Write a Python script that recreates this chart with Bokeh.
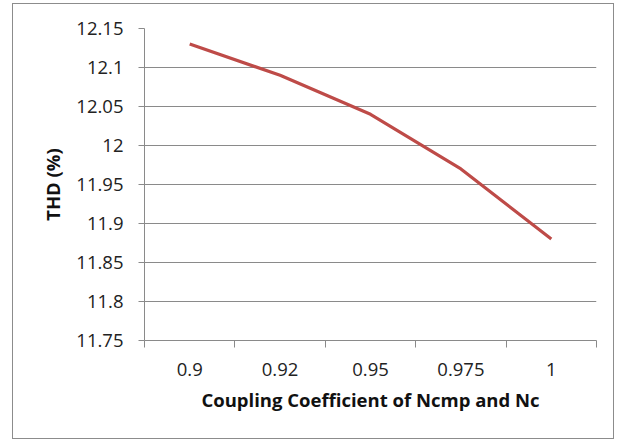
from bokeh.plotting import figure
from bokeh.models import Range1d, FixedTicker, ColumnDataSource
from bokeh.embed import file_html
from bokeh.resources import INLINE

# Data
categories = ["0.9", "0.92", "0.95", "0.975", "1"]
thd = [12.13, 12.09, 12.04, 11.97, 11.88]
y_ticks = [11.75, 11.8, 11.85, 11.9, 11.95, 12.0, 12.05, 12.1, 12.15]
y_tick_labels = ["11.75", "11.8", "11.85", "11.9", "11.95", "12", "12.05", "12.1", "12.15"]

n = len(categories)
xpos = [i + 0.5 for i in range(n)]
src = ColumnDataSource(dict(x=xpos, y=thd))

FONT = "Open Sans"
GRAY = "#8a8a8a"

p = figure(width=602, height=436, output_backend="svg", toolbar_location=None,
           x_range=Range1d(0, n), y_range=Range1d(y_ticks[0], y_ticks[-1]),
           min_border_left=131, min_border_right=19, min_border_top=24, min_border_bottom=100,
           styles={"border": "1.5px solid #8c8c8c", "margin-left": "12px", "margin-top": "3px"})
p.background_fill_color = "white"
p.border_fill_color = "white"
p.outline_line_color = None

p.line("x", "y", source=src, line_color="#BE4B48", line_width=3.2)

# X axis: boundary tick marks (minor), category labels at centers
xa = p.xaxis[0]
xa.ticker = FixedTicker(ticks=xpos, minor_ticks=list(range(n + 1)))
xa.major_label_overrides = {xv: c for xv, c in zip(xpos, categories)}
xa.major_tick_out = 0
xa.major_tick_in = 0
xa.minor_tick_out = 7
xa.minor_tick_in = 0
xa.minor_tick_line_color = GRAY
xa.axis_line_color = GRAY
xa.major_label_standoff = 15
xa.major_label_text_font = FONT
xa.major_label_text_font_size = "18.5px"
xa.major_label_text_color = "#222222"
xa.axis_label = "Coupling Coefficient of Ncmp and Nc"
xa.axis_label_text_font = FONT
xa.axis_label_text_font_size = "18.5px"
xa.axis_label_text_font_style = "bold"
xa.axis_label_text_color = "#111111"
xa.axis_label_standoff = 8

# Y axis
ya = p.yaxis[0]
ya.ticker = FixedTicker(ticks=y_ticks, minor_ticks=[])
ya.major_label_overrides = {v: s for v, s in zip(y_ticks, y_tick_labels)}
ya.major_tick_out = 6
ya.major_tick_in = 0
ya.major_tick_line_color = GRAY
ya.axis_line_color = GRAY
ya.major_label_standoff = 15
ya.major_label_text_font = FONT
ya.major_label_text_font_size = "18.5px"
ya.major_label_text_color = "#222222"
ya.axis_label = "THD (%)"
ya.axis_label_text_font = FONT
ya.axis_label_text_font_size = "18.5px"
ya.axis_label_text_font_style = "bold"
ya.axis_label_text_color = "#111111"
ya.axis_label_standoff = 8

p.xgrid.visible = False
p.ygrid.ticker = FixedTicker(ticks=y_ticks)
p.ygrid.grid_line_color = GRAY
p.ygrid.grid_line_width = 1

open("out.html", "w").write(file_html(p, INLINE))
